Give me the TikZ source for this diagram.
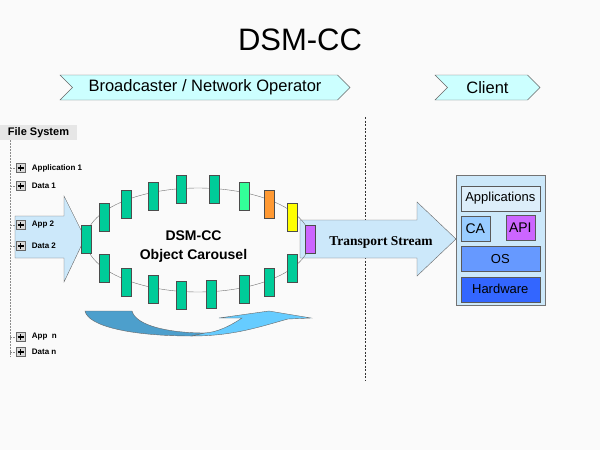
\documentclass[tikz,border=0pt]{standalone}
\usepackage{fontspec}
\setmainfont{Liberation Sans}
\newfontfamily\streamfont{Liberation Serif}
\usetikzlibrary{positioning, shapes.geometric, shapes.symbols}

\definecolor{pagebg}{HTML}{FAFAFA}
\definecolor{bannercyan}{HTML}{CCFFFF}
\definecolor{arrowblue}{HTML}{CCE8FA}
\definecolor{slotgreen}{HTML}{00CC99}
\definecolor{slotlime}{HTML}{33FF99}
\definecolor{slotorange}{HTML}{FF9933}
\definecolor{slotyellow}{HTML}{FFFF00}
\definecolor{slotpurple}{HTML}{CC66FF}
\definecolor{appsblue}{HTML}{DDEEFA}
\definecolor{cablue}{HTML}{99CCFF}
\definecolor{osblue}{HTML}{6699FF}
\definecolor{hwblue}{HTML}{3366FF}
\definecolor{swirldark}{HTML}{4D9FCC}
\definecolor{swirllight}{HTML}{66CCFF}
\definecolor{fsgray}{HTML}{E6E6E6}

\begin{document}
\begin{tikzpicture}[
        x=1pt, y=-1pt,
        banner/.style={signal, signal from=west, signal to=east, draw=black!60, fill=bannercyan,
                       minimum height=25pt, inner sep=0pt, font=\fontsize{16.5}{18}\selectfont},
        slot/.style={rectangle, draw=black!70, fill=slotgreen, minimum width=10pt,
                     minimum height=28pt, inner sep=0pt},
        ring/.style={ellipse, draw=black!55, minimum width=224pt, minimum height=104pt, inner sep=0pt},
        bigarrow/.style={draw=black!60, fill=arrowblue},
        swirl/.style={draw=black!60, line width=0.4pt},
        plusbox/.style={rectangle, draw=black!60, fill=black!15, minimum size=9pt, inner sep=0pt,
                        path picture={\draw[black, line width=1.4pt]
                            ([yshift=-1.5pt]path picture bounding box.north) -- ([yshift=1.5pt]path picture bounding box.south)
                            ([xshift=1.5pt]path picture bounding box.west) -- ([xshift=-1.5pt]path picture bounding box.east);}},
        item/.style={font=\fontsize{8}{9}\selectfont\bfseries, inner sep=0pt},
        tree/.style={black!45, line width=0.8pt, dash pattern=on 2pt off 1pt},
        divider/.style={black!80, line width=0.6pt, dash pattern=on 2pt off 1.5pt},
        layer/.style={rectangle, draw=black!65, minimum width=79pt, minimum height=25pt,
                      inner sep=0pt, font=\fontsize{13}{15}\selectfont},
        smalllayer/.style={layer, minimum width=29pt, font=\fontsize{14}{16}\selectfont}
    ]
        \fill[pagebg] (0,0) rectangle (600,450);
        \useasboundingbox (0,0) rectangle (600,450);

        \node[font=\fontsize{31}{36}\selectfont] (title) at (300,40) {DSM-CC};
        \node[banner, minimum width=290pt] (operator) at (205,87.5) {Broadcaster / Network Operator};
        \node[banner, minimum width=105pt] (clientbanner) at (487.5,87.5) {Client};

        \coordinate (dividertop) at (365,117);
        \coordinate (dividerbottom) at (365,380);
        \draw[divider] (dividertop) -- (dividerbottom);

        \draw[bigarrow] (15,216) -- (64,216) -- (64,196) -- (85,238) -- (64,282) -- (64,258) -- (15,258) -- cycle;
        \draw[bigarrow] (300,220) -- (417,220) -- (417,202) -- (456,239) -- (417,276) -- (417,258) -- (300,258) -- cycle;
        \node[font=\fontsize{13.5}{15}\selectfont\streamfont\bfseries] (stream) at (381,242) {Transport Stream};

        \node[ring] (carousel) at (198,240) {};
        \node[slot] (slotleft) at (86,239) {};
        \node[slot] (topslot1) at (104.3,217.5) {};
        \node[slot] (topslot2) at (126,203.7) {};
        \node[slot] (topslot3) at (152.7,196.3) {};
        \node[slot] (topslot4) at (181.3,189.5) {};
        \node[slot] (topslot5) at (214.2,189.5) {};
        \node[slot, fill=slotlime] (topslot6) at (244,196.3) {};
        \node[slot, fill=slotorange] (topslot7) at (269,203.7) {};
        \node[slot, fill=slotyellow] (topslot8) at (292,217.5) {};
        \node[slot, fill=slotpurple] (slotright) at (310,239) {};
        \node[slot] (bottomslot1) at (104.3,267.8) {};
        \node[slot] (bottomslot2) at (126,281.7) {};
        \node[slot] (bottomslot3) at (152.7,289.5) {};
        \node[slot] (bottomslot4) at (181.3,295) {};
        \node[slot] (bottomslot5) at (210.7,294.5) {};
        \node[slot] (bottomslot6) at (244,289.5) {};
        \node[slot] (bottomslot7) at (269,281.7) {};
        \node[slot] (bottomslot8) at (292,267.8) {};
        \node[font=\fontsize{14}{18.5}\selectfont\bfseries, align=center] (carousellabel) at (193.5,246.5) {DSM-CC\\Object Carousel};

        \draw[swirl, fill=swirldark] (85,311) -- (132,311) .. controls (136,326) and (170,333) .. (205,333)
            -- (192,336) .. controls (130,336) and (88,326) .. (85,311) -- cycle;
        \draw[swirl, fill=swirllight] (192,336) .. controls (235,336) and (262,326) .. (288,319) -- (311,318)
            -- (269,311) -- (219,318) -- (242,318) .. controls (230,326) and (218,332) .. (205,333) -- cycle;

        \node[fill=fsgray, minimum width=77pt, minimum height=15pt, inner sep=0pt,
              font=\fontsize{11}{13}\selectfont\bfseries] (filesystem) at (38.5,132.5) {File System};
        \coordinate (treetop) at (10,140);
        \coordinate (treebottom) at (10,357);
        \draw[tree] (treetop) -- (treebottom);

        \node[plusbox] (plusappone) at (20.5,168) {};
        \node[item, right=6.5pt of plusappone] (appone) {Application 1};
        \node[plusbox] (plusdataone) at (20.5,186) {};
        \node[item, right=6.5pt of plusdataone] (dataone) {Data 1};
        \node[plusbox] (plusapptwo) at (20.5,225) {};
        \node[item, right=6.5pt of plusapptwo] (apptwo) {App 2};
        \node[plusbox] (plusdatatwo) at (20.5,246) {};
        \node[item, right=6.5pt of plusdatatwo] (datatwo) {Data 2};
        \node[plusbox] (plusappn) at (20.5,337) {};
        \node[item, right=6.5pt of plusappn] (appn) {App~ n};
        \node[plusbox] (plusdatan) at (20.5,352) {};
        \node[item, right=6.5pt of plusdatan] (datan) {Data n};

        \draw[tree] (treetop |- plusappone) -- (plusappone);
        \draw[tree] (treetop |- plusdataone) -- (plusdataone);
        \draw[tree] (treetop |- plusapptwo) -- (plusapptwo);
        \draw[tree] (treetop |- plusdatatwo) -- (plusdatatwo);
        \draw[tree] (treetop |- plusappn) -- (plusappn);
        \draw[tree] (treetop |- plusdatan) -- (plusdatan);

        \node[rectangle, draw=black!55, fill=arrowblue, minimum width=89pt, minimum height=130pt] (client) at (500.3,240) {};
        \node[layer, fill=appsblue] (apps) at (500.3,198.5) {Applications};
        \node[smalllayer, fill=cablue, below=5pt of apps.south west, anchor=north west] (ca) {CA};
        \node[smalllayer, fill=slotpurple, below=4pt of apps.south east, anchor=north east, xshift=-5pt] (api) {API};
        \node[layer, fill=osblue, below=35pt of apps] (os) {OS};
        \node[layer, fill=hwblue, below=5pt of os] (hardware) {Hardware};
    \end{tikzpicture}
\end{document}
